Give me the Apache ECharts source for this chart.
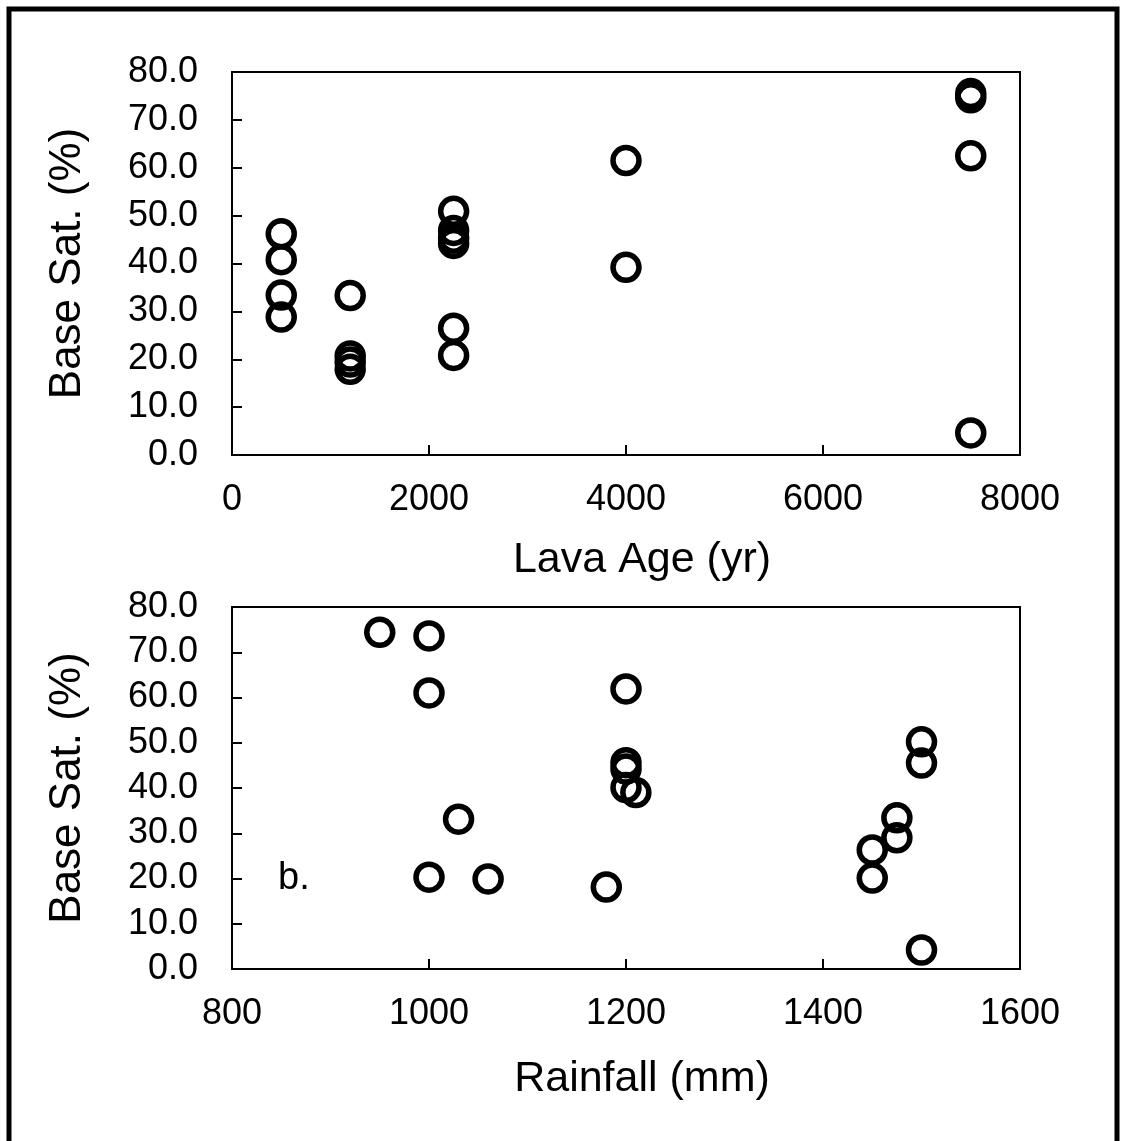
<!DOCTYPE html>
<html>
<head>
<meta charset="utf-8">
<script src="https://cdn.jsdelivr.net/npm/echarts@6/dist/echarts.min.js"></script>
<style>
  html, body { margin: 0; padding: 0; background: #fff; }
  #chart { width: 1123px; height: 1141px; }
</style>
</head>
<body>
<div id="chart"></div>
<script>
// Panel a: base saturation against lava flow age
const lavaAge = [500, 500, 500, 500,
                 1200, 1200, 1200, 1200,
                 2250, 2250, 2250, 2250, 2250, 2250,
                 4000, 4000,
                 7500, 7500, 7500, 7500];
const baseSatByAge = [46.2, 40.8, 33.4, 28.8,
                      33.3, 20.7, 19.4, 17.9,
                      50.9, 46.9, 45.3, 44.2, 26.5, 20.8,
                      61.5, 39.2,
                      75.5, 74.6, 62.5, 4.6];

// Panel b: base saturation against annual rainfall
const rainfall = [950, 1000, 1000, 1000, 1030, 1060, 1180,
                  1200, 1200, 1200, 1200, 1210,
                  1450, 1450, 1475, 1475, 1500, 1500, 1500];
const baseSatByRain = [74.4, 73.6, 61.0, 20.3, 33.1, 19.9, 18.1,
                       61.9, 45.6, 44.2, 40.1, 39.0,
                       26.3, 20.1, 33.4, 29.0, 50.2, 45.5, 4.2];

const ageTicks = { min: 0, max: 8000, interval: 2000 };
const rainTicks = { min: 800, max: 1600, interval: 200 };
const satTicks = { min: 0, max: 80, interval: 10 };

const FONT = '"Liberation Sans", Arial, sans-serif';
const zip = (xs, ys) => xs.map((x, i) => [x, ys[i]]);

function xAxis(gridIndex, ticks, name, gap) {
  return {
    type: 'value', gridIndex, name,
    min: ticks.min, max: ticks.max, interval: ticks.interval,
    nameLocation: 'middle', nameGap: gap,
    nameTextStyle: { fontFamily: FONT, fontSize: 43, color: '#000', padding: [0, 0, 0, 32] },
    axisLine: { show: true, onZero: false, lineStyle: { color: '#000', width: 2 } },
    axisTick: { show: true, inside: true, length: 10, lineStyle: { color: '#000', width: 2 } },
    axisLabel: { fontFamily: FONT, fontSize: 36, color: '#000', margin: 27,
                 formatter: v => String(v) },
    splitLine: { show: false }
  };
}

function yAxis(gridIndex, ticks) {
  return {
    type: 'value', gridIndex, name: 'Base Sat. (%)',
    min: ticks.min, max: ticks.max, interval: ticks.interval,
    nameLocation: 'middle', nameGap: 142,
    nameTextStyle: { fontFamily: FONT, fontSize: 44, color: '#000' },
    axisLine: { show: true, onZero: false, lineStyle: { color: '#000', width: 2 } },
    axisTick: { show: true, inside: true, length: 10, lineStyle: { color: '#000', width: 2 } },
    axisLabel: { fontFamily: FONT, fontSize: 36, color: '#000', margin: 34,
                 formatter: v => v.toFixed(1) },
    splitLine: { show: false }
  };
}

const circle = {
  type: 'scatter', symbol: 'circle', symbolSize: 26,
  itemStyle: { color: 'rgba(255,255,255,0)', borderColor: '#000', borderWidth: 5.5, opacity: 1 },
  emphasis: { disabled: true }
};

const chart = echarts.init(document.getElementById('chart'), null, { renderer: 'canvas' });
chart.setOption({
  backgroundColor: '#fff',
  animation: false,
  grid: [
    { left: 232, top: 72, width: 788, height: 383, show: true,
      borderColor: '#000', borderWidth: 2, backgroundColor: 'transparent' },
    { left: 232, top: 607, width: 788, height: 362, show: true,
      borderColor: '#000', borderWidth: 2, backgroundColor: 'transparent' }
  ],
  xAxis: [xAxis(0, ageTicks, 'Lava Age (yr)', 84), xAxis(1, rainTicks, 'Rainfall (mm)', 89)],
  yAxis: [yAxis(0, satTicks), yAxis(1, satTicks)],
  series: [
    Object.assign({}, circle, { xAxisIndex: 0, yAxisIndex: 0, data: zip(lavaAge, baseSatByAge) }),
    Object.assign({}, circle, { xAxisIndex: 1, yAxisIndex: 1, data: zip(rainfall, baseSatByRain) })
  ],
  graphic: [
    // page frame
    { type: 'polyline', silent: true,
      shape: { points: [[9, 1141], [9, 9], [1117, 9], [1117, 1141]] },
      style: { stroke: '#000', lineWidth: 5, fill: null } },
    // panel tag
    { type: 'text', left: 278, top: 860, silent: true,
      style: { text: 'b.', fontFamily: FONT, fontSize: 38, fill: '#000' } }
  ]
});
</script>
</body>
</html>
